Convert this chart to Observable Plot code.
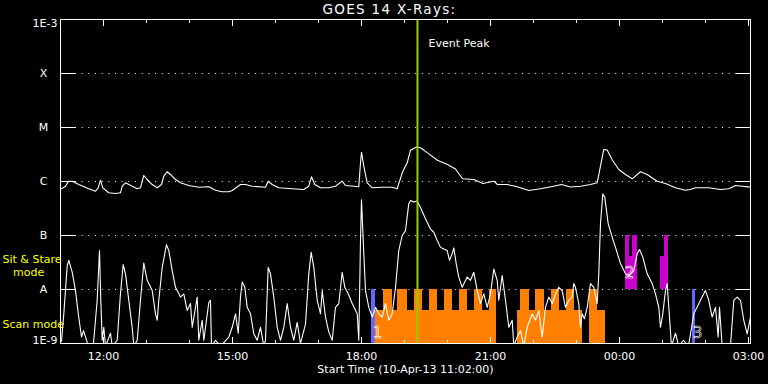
<!DOCTYPE html>
<html><head><meta charset="utf-8">
<script src="https://cdn.jsdelivr.net/npm/d3@7"></script>
<script src="https://cdn.jsdelivr.net/npm/@observablehq/plot@0.6"></script>
<style>
html,body{margin:0;padding:0;background:#000;}
#chart svg{display:block;}
</style></head><body><div id="chart"></div>
<script>
// ---- texts ----
const titleText = "GOES 14 X-Rays:";
const captionText = "Start Time (10-Apr-13 11:02:00)";
const eventLabel = "Event Peak";
const eventPeakHour = 19.302;

// ---- axes ----
const yTickValues = [1e-9, 1e-8, 1e-7, 1e-6, 1e-5, 1e-4, 1e-3];
const yTickLabels = ["1E-9", "A", "B", "C", "M", "X", "1E-3"];
const xTickValues = [12, 15, 18, 21, 24, 27];
const xTickLabels = ["12:00", "15:00", "18:00", "21:00", "00:00", "03:00"];
const xMinorTicks = [12, 13, 14, 15, 16, 17, 18, 19, 20, 21, 22, 23, 24, 25, 26, 27];
const xDomain = [11, 27.047]; // hours since 10-Apr-13 00:00

// ---- mode labels ----
const modeLabels = ["Sit & Stare\n\u00a0\u00a0\u00a0mode", "Scan mode"];
const modeLabelLevel = [2.8e-8, 2.3e-9];

// ---- long channel (1-8 A), log10 flux ----
const longHour = [11.023,11.116,11.193,11.272,11.426,11.658,11.814,11.877,11.930,11.984,
12.123,12.279,12.395,12.435,12.512,12.667,12.784,12.860,12.937,13.016,
13.133,13.249,13.349,13.402,13.481,13.558,13.674,13.791,13.984,14.216,
14.449,14.605,14.760,14.914,14.993,15.186,15.302,15.458,15.767,15.830,
15.923,16.077,16.388,16.658,16.774,16.837,16.914,17.047,17.240,17.395,
17.551,17.628,17.821,17.937,17.977,18.000,18.053,18.133,18.249,18.481,
18.714,18.830,18.947,19.063,19.140,19.279,19.372,19.535,19.767,20.000,
20.186,20.349,20.612,20.826,21.077,21.163,21.388,21.605,21.891,22.163,
22.472,22.651,22.860,23.093,23.326,23.481,23.558,23.635,23.714,23.830,
23.984,24.140,24.295,24.488,24.644,24.877,25.070,25.302,25.535,25.651,
25.767,26.077,26.349,26.542,26.698,26.853,27.047];
const longLog = [-6.135,-6.087,-5.994,-5.994,-6.056,-6.135,-6.180,-6.117,-5.976,-6.117,
-6.209,-6.222,-6.209,-6.087,-6.024,-6.087,-6.135,-6.117,-5.889,-5.963,
-6.056,-6.117,-6.056,-5.902,-5.820,-5.870,-5.963,-6.024,-6.074,-6.106,
-6.098,-6.161,-6.191,-6.191,-6.167,-6.056,-6.056,-6.087,-6.106,-5.994,
-6.056,-6.117,-6.135,-6.148,-6.087,-5.913,-6.056,-6.117,-6.117,-6.087,
-5.994,-6.074,-6.087,-6.098,-5.654,-5.457,-5.717,-6.024,-6.117,-6.106,
-6.106,-6.135,-5.839,-5.654,-5.420,-5.361,-5.376,-5.469,-5.606,-5.685,
-5.769,-5.950,-5.963,-6.037,-5.994,-6.056,-6.056,-6.093,-6.167,-6.135,
-6.087,-6.056,-6.102,-6.087,-6.056,-6.024,-5.717,-5.407,-5.417,-5.598,
-5.778,-5.870,-5.950,-5.820,-5.870,-5.994,-6.037,-6.117,-6.161,-6.148,
-6.117,-6.117,-6.148,-6.135,-6.074,-6.087,-6.106];

// ---- short channel (0.5-4 A), log10 flux ----
const shortHour = [11.023,11.077,11.156,11.193,11.272,11.349,11.412,11.488,11.535,11.621,
11.658,11.767,11.853,11.907,11.937,11.970,12.007,12.047,12.163,12.202,
12.319,12.395,12.458,12.512,12.588,12.667,12.705,12.784,12.860,12.937,
13.016,13.133,13.209,13.249,13.286,13.365,13.465,13.519,13.598,13.674,
13.791,13.867,13.947,14.023,14.063,14.140,14.179,14.216,14.295,14.333,
14.449,14.488,14.512,14.605,14.721,14.914,14.993,15.070,15.133,15.186,
15.226,15.286,15.342,15.419,15.495,15.574,15.651,15.728,15.767,15.830,
15.884,15.960,16.040,16.116,16.193,16.272,16.349,16.426,16.505,16.581,
16.698,16.774,16.830,16.891,16.970,17.047,17.086,17.163,17.240,17.319,
17.395,17.472,17.551,17.612,17.691,17.784,17.900,17.937,17.977,18.000,
18.040,18.093,18.170,18.249,18.326,18.402,18.481,18.558,18.635,18.714,
18.791,18.867,18.947,19.023,19.100,19.140,19.216,19.295,19.372,19.488,
19.605,19.681,19.760,19.837,19.914,19.993,20.047,20.109,20.147,20.202,
20.263,20.342,20.458,20.535,20.612,20.691,20.767,20.844,20.923,21.000,
21.077,21.156,21.193,21.272,21.349,21.426,21.505,21.542,21.621,21.698,
21.774,21.853,21.970,22.047,22.123,22.202,22.279,22.356,22.435,22.512,
22.588,22.667,22.744,22.821,22.900,22.937,22.977,23.053,23.093,23.133,
23.186,23.249,23.326,23.402,23.481,23.519,23.558,23.612,23.658,23.737,
23.830,23.907,24.023,24.140,24.233,24.333,24.412,24.465,24.542,24.644,
24.760,24.837,24.914,24.953,25.007,25.070,25.109,25.147,25.209,25.302,
25.379,25.488,25.605,25.728,25.805,25.921,25.998,26.077,26.155,26.233,
26.295,26.326,26.388,26.488,26.581,26.658,26.737,26.814,26.891,26.970,
27.047];
const shortLog = [-8.96,-8.45,-7.56,-7.46,-7.68,-8.02,-8.44,-8.88,-8.76,-8.98,
-9.05,-9.00,-8.20,-7.28,-8.20,-8.94,-8.70,-9.05,-8.81,-9.05,
-8.94,-8.07,-7.54,-7.71,-8.20,-8.70,-9.05,-8.94,-8.20,-7.51,
-7.83,-8.02,-8.45,-8.57,-8.20,-7.59,-7.17,-7.28,-7.65,-7.96,
-8.14,-8.08,-8.39,-8.26,-8.70,-8.33,-8.14,-8.94,-8.57,-8.94,
-8.24,-8.20,-9.05,-8.94,-9.05,-8.88,-8.70,-8.45,-8.81,-8.14,
-7.86,-7.96,-8.33,-8.45,-8.82,-8.94,-8.70,-9.05,-8.94,-7.59,
-7.71,-8.14,-8.70,-8.94,-8.70,-8.26,-8.70,-8.94,-8.61,-9.00,
-8.64,-7.71,-7.31,-7.59,-8.20,-8.45,-8.02,-8.51,-8.79,-8.94,
-8.33,-8.26,-7.68,-7.96,-8.08,-8.26,-8.45,-8.94,-7.09,-6.34,
-7.09,-8.02,-8.33,-8.51,-8.33,-8.45,-8.51,-8.26,-8.57,-8.45,
-7.96,-7.28,-7.00,-6.91,-6.41,-6.35,-6.38,-6.36,-6.48,-6.69,
-6.88,-6.94,-7.09,-7.22,-7.25,-7.28,-7.46,-7.34,-7.23,-7.52,
-7.77,-7.96,-7.77,-7.83,-7.68,-8.02,-8.26,-8.08,-8.33,-8.08,
-7.62,-7.83,-8.20,-7.74,-8.20,-8.70,-8.57,-9.05,-8.88,-8.76,
-9.05,-8.70,-8.45,-8.57,-8.39,-8.88,-8.33,-8.14,-8.26,-8.08,
-7.96,-8.02,-8.33,-8.20,-8.14,-7.89,-7.96,-8.26,-8.70,-8.45,
-8.54,-8.33,-7.89,-7.96,-8.26,-7.71,-6.78,-6.23,-6.29,-6.78,
-7.03,-7.22,-7.52,-7.71,-7.74,-7.65,-7.34,-7.26,-7.40,-7.71,
-7.89,-8.08,-8.33,-8.70,-8.45,-8.02,-7.89,-8.33,-9.05,-8.81,
-9.05,-8.94,-9.05,-8.45,-8.33,-8.14,-8.02,-8.20,-8.51,-8.33,
-8.88,-8.33,-9.05,-9.00,-9.05,-8.20,-8.14,-8.20,-8.57,-8.82,
-8.51];

// ---- scan mode blocks (orange) ----
const scanBase = 1e-9;
const scanStart = [18.326,18.512,18.714,18.849,19.074,19.240,19.419,19.588,19.767,19.937,20.116,20.286,20.465,20.635,20.814,20.984,
21.628,21.705,21.900,22.053,22.249,22.412,22.598,22.760,22.947,23.302,23.481];
const scanEnd = [18.512,18.714,18.849,19.074,19.240,19.419,19.588,19.767,19.937,20.116,20.286,20.465,20.635,20.814,20.984,21.140,
21.705,21.900,22.053,22.249,22.412,22.598,22.760,22.947,23.140,23.481,23.667];
const scanTop = [4.1e-9,1e-8,4.1e-9,1e-8,4.1e-9,1e-8,4.1e-9,1e-8,4.1e-9,1e-8,4.1e-9,1e-8,4.1e-9,1e-8,4.1e-9,1e-8,
4.1e-9,1e-8,4.1e-9,1e-8,4.1e-9,1e-8,4.1e-9,1e-8,4.1e-9,1e-8,4.1e-9];

// ---- sit & stare blocks (magenta) ----
const stareBase = 1e-8;
const stareStart = [24.140, 24.233, 24.295, 24.953, 25.047];
const stareEnd = [24.233, 24.295, 24.412, 25.047, 25.133];
const stareTop = [1e-7, 4.1e-8, 1e-7, 4.1e-8, 1e-7];

// ---- markers (blue) ----
const markBase = 1e-9;
const markTop = 1e-8;
const markStart = [18.233, 25.698];
const markEnd = [18.326, 25.761];

// ---- numbered events ----
const eventNumbers = ["1", "2", "3"];
const eventNumHour = [18.372, 24.233, 25.814];
const eventNumLevel = [1.53e-9, 2.04e-8, 1.56e-9];

// ---- build tables ----
const longData = longHour.map((h, i) => ({h, f: 10 ** longLog[i]}));
const shortData = shortHour.map((h, i) => ({h, f: 10 ** shortLog[i]}));
const scanData = scanStart.map((s, i) => ({s, e: scanEnd[i], top: scanTop[i]}));
const stareData = stareStart.map((s, i) => ({s, e: stareEnd[i], top: stareTop[i]}));
const markData = markStart.map((s, i) => ({s, e: markEnd[i]}));
const numData = eventNumbers.map((t, i) => ({t, h: eventNumHour[i], f: eventNumLevel[i]}));
const modeData = modeLabels.map((t, i) => ({t, f: modeLabelLevel[i]}));
const yLab = d => yTickLabels[yTickValues.indexOf(d)];
const xLab = d => xTickLabels[xTickValues.indexOf(d)];
const white = "#ffffff";

const chart = Plot.plot({
  width: 768, height: 384,
  marginLeft: 60, marginRight: 18, marginTop: 19, marginBottom: 41,
  style: {background: "#000", color: white, fontFamily: "DejaVu Sans", fontSize: "11px"},
  x: {type: "linear", domain: xDomain, axis: null},
  y: {type: "log", domain: [1e-9, 1e-3], axis: null},
  marks: [
    Plot.gridY(yTickValues.slice(1, -1), {stroke: white, strokeOpacity: 1, strokeDasharray: "1,5.67", insetLeft: 15, insetRight: 14}),
    Plot.rect(scanData, {x1: "s", x2: "e", y1: scanBase, y2: "top", fill: "#ff8000", shapeRendering: "crispEdges"}),
    Plot.rect(stareData, {x1: "s", x2: "e", y1: stareBase, y2: "top", fill: "#cc00cc", shapeRendering: "crispEdges"}),
    Plot.rect(markData, {x1: "s", x2: "e", y1: markBase, y2: markTop, fill: "#6464ff", shapeRendering: "crispEdges"}),
    Plot.text(numData, {x: "h", y: "f", text: "t", fill: "none", stroke: white, strokeWidth: 0.6, fontSize: 15, lineAnchor: "middle"}),
    Plot.line(shortData, {x: "h", y: "f", stroke: white, strokeWidth: 1.1, clip: true}),
    Plot.line(longData, {x: "h", y: "f", stroke: white, strokeWidth: 1.1, clip: true}),
    Plot.ruleX([eventPeakHour], {stroke: "#99cc00", strokeWidth: 2}),
    Plot.text([eventLabel], {x: [eventPeakHour], frameAnchor: "top", lineAnchor: "middle", dy: 24, dx: 11, textAnchor: "start", fill: white, fontSize: 11}),
    // y axes: inward solid ticks, left and right
    Plot.axisY({anchor: "left", ticks: yTickValues, tickSize: -15, tickFormat: () => "", stroke: white}),
    Plot.axisY({anchor: "right", ticks: yTickValues, tickSize: -15, tickFormat: () => "", stroke: white}),
    Plot.axisY({anchor: "left", ticks: yTickValues.slice(1, -1), tickSize: 0, tickPadding: 17, textAnchor: "middle", tickFormat: yLab, fill: white, fontSize: 11}),
    Plot.axisY({anchor: "left", ticks: [yTickValues[6]], tickSize: 0, tickPadding: 3, tickFormat: yLab, fill: white, fontSize: 11, dy: 4}),
    Plot.axisY({anchor: "left", ticks: [yTickValues[0]], tickSize: 0, tickPadding: 3, tickFormat: yLab, fill: white, fontSize: 11, dy: -3}),
    // x axes: inward ticks top and bottom
    Plot.axisX({anchor: "bottom", ticks: xMinorTicks, tickSize: -3, tickFormat: () => "", stroke: white}),
    Plot.axisX({anchor: "top", ticks: xMinorTicks, tickSize: -3, tickFormat: () => "", stroke: white}),
    Plot.axisX({anchor: "bottom", ticks: xTickValues, tickSize: -6, tickFormat: () => "", stroke: white}),
    Plot.axisX({anchor: "top", ticks: xTickValues, tickSize: -6, tickFormat: () => "", stroke: white}),
    Plot.axisX({anchor: "bottom", ticks: xTickValues, tickSize: 0, tickPadding: 9, tickFormat: xLab, fill: white, fontSize: 11}),
    // mode labels in yellow
    Plot.text(modeData, {y: "f", text: "t", frameAnchor: "left", dx: -58, textAnchor: "start", fill: "#ffff00", fontSize: 11, lineHeight: 1.15}),
    Plot.frame({stroke: white, strokeWidth: 1}),
    Plot.text([titleText], {frameAnchor: "top", lineAnchor: "middle", dy: -9.5, dx: -16, fill: white, fontSize: 13.5}),
    Plot.text([captionText], {frameAnchor: "bottom", lineAnchor: "middle", dy: 25.5, fill: white, fontSize: 11})
  ]
});
d3.select(chart).selectAll("text")
  .filter(function() { return this.textContent === titleText; })
  .style("letter-spacing", "1.3px");
document.getElementById("chart").appendChild(chart);
</script></body></html>
